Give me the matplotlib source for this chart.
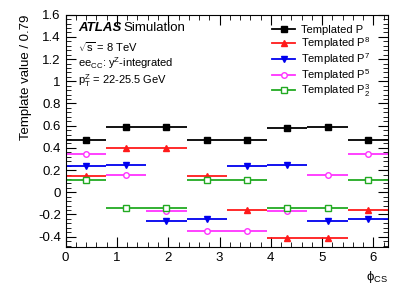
import numpy as np
import matplotlib.pyplot as plt
from matplotlib.lines import Line2D
from matplotlib.ticker import MultipleLocator

plt.rcParams["font.family"] = ["Liberation Sans", "DejaVu Sans"]
plt.rcParams["mathtext.fontset"] = "custom"
plt.rcParams["mathtext.rm"] = "Liberation Sans"
plt.rcParams["mathtext.it"] = "Liberation Sans"

# 8 bins in phi_CS from 0 to 2*pi
bin_edges = np.linspace(0, 2 * np.pi, 9)
p0 = [0.47, 0.59, 0.59, 0.47, 0.47, 0.58, 0.59, 0.47]
p8 = [0.147, 0.40, 0.40, 0.147, -0.157, -0.41, -0.41, -0.157]
p7 = [0.237, 0.246, -0.256, -0.24, 0.237, 0.246, -0.256, -0.24]
p5 = [0.345, 0.159, -0.166, -0.349, -0.349, -0.166, 0.159, 0.345]
p3 = [0.108, -0.139, -0.139, 0.108, 0.108, -0.139, -0.14, 0.108]

labels = ["Templated P", "Templated P$^{8}$", "Templated P$^{7}$",
          "Templated P$^{5}$", "Templated P$^{3}_{2}$"]

centers = 0.5 * (bin_edges[1:] + bin_edges[:-1])
half = 0.5 * np.diff(bin_edges)

fig = plt.figure(figsize=(4.09, 2.94), dpi=100)
ax = fig.add_axes([0.1606, 0.161, 0.788, 0.789])

styles = [
    (p0, "black", "s", "black"),
    (p8, "#ff1a1a", "^", "#ff1a1a"),
    (p7, "#0000ee", "v", "#0000ee"),
    (p5, "#ff33ff", "o", "white"),
    (p3, "#22aa22", "s", "white"),
]
handles = []
for vals, col, mk, face in styles:
    ax.errorbar(centers, vals, xerr=half, fmt=mk, color=col, ecolor=col,
                mfc=face, mec=col, ms=4, mew=1.0, elinewidth=1.3, capsize=0)
    handles.append(Line2D([], [], color=col, lw=1.3, marker=mk, ms=4,
                          mfc=face, mec=col, mew=1.0))

ax.set_xlim(0, 2 * np.pi)
ax.set_ylim(-0.49, 1.6)
ax.xaxis.set_major_locator(MultipleLocator(1))
ax.xaxis.set_minor_locator(MultipleLocator(0.2))
ax.yaxis.set_major_locator(MultipleLocator(0.2))
ax.yaxis.set_minor_locator(MultipleLocator(0.04))
ax.tick_params(which="both", direction="in", top=True, right=True,
               labelsize=9.5)
ax.tick_params(which="major", length=7)
ax.tick_params(which="minor", length=3.5)
ax.set_yticks(np.arange(-0.4, 1.61, 0.2))
ax.set_yticklabels(["-0.4", "-0.2", "0", "0.2", "0.4", "0.6", "0.8", "1",
                    "1.2", "1.4", "1.6"])

ax.set_ylabel("Template value / 0.79", fontsize=9.5, loc="top")
ax.set_xlabel(r"$\phi_{\mathrm{CS}}$", fontsize=9.5, loc="right")

ax.text(0.038, 0.943, "ATLAS", transform=ax.transAxes, fontsize=9.5,
        fontweight="bold", style="italic", va="center")
ax.text(0.178, 0.943, "Simulation", transform=ax.transAxes, fontsize=9.5,
        va="center")
ax.text(0.038, 0.861, r"$\sqrt{s}$ = 8 TeV", transform=ax.transAxes,
        fontsize=8, va="center")
ax.text(0.038, 0.792, r"ee$_{\mathrm{CC}}$: y$^{\mathrm{Z}}$-integrated",
        transform=ax.transAxes, fontsize=8, va="center")
ax.text(0.038, 0.718, r"p$_{\mathrm{T}}^{\mathrm{Z}}$ = 22-25.5 GeV",
        transform=ax.transAxes, fontsize=8, va="center")

ax.legend(handles, labels, loc="upper left", bbox_to_anchor=(0.64, 0.955),
          frameon=False, fontsize=8, handlelength=2.1, handletextpad=0.5,
          labelspacing=0.0, borderaxespad=0, borderpad=0)

fig.savefig("out.png", dpi=100)
